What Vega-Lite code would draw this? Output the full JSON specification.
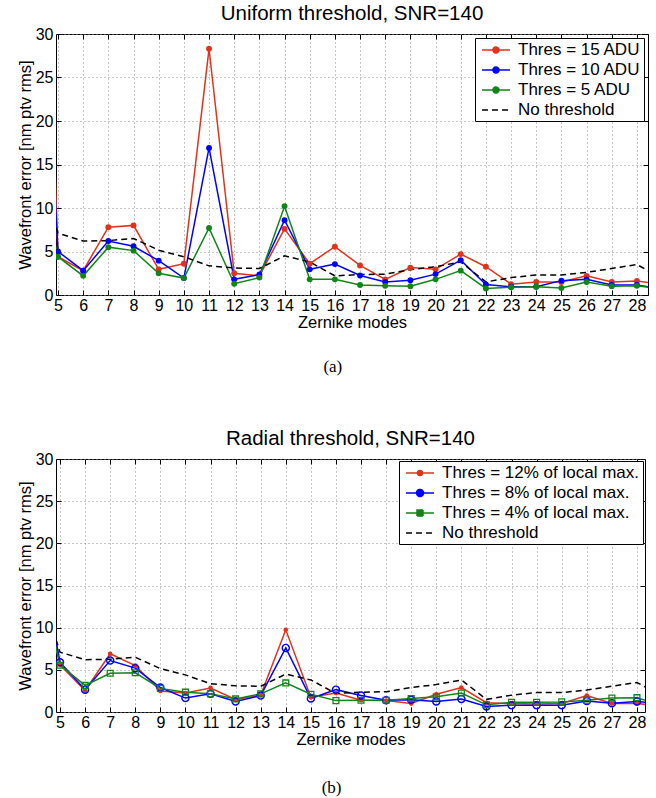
{
  "$schema": "https://vega.github.io/schema/vega-lite/v6.json",
  "background": "white",
  "padding": {"left": 16, "top": 3, "right": 6, "bottom": 2},
  "datasets": {
    "u": [
      {"m":4,"s":"a","v":90},{"m":5,"s":"a","v":4.4},{"m":6,"s":"a","v":2.8},{"m":7,"s":"a","v":7.8},{"m":8,"s":"a","v":8.0},{"m":9,"s":"a","v":2.95},{"m":10,"s":"a","v":3.6},{"m":11,"s":"a","v":28.3},{"m":12,"s":"a","v":2.5},{"m":13,"s":"a","v":2.2},{"m":14,"s":"a","v":7.6},{"m":15,"s":"a","v":3.6},{"m":16,"s":"a","v":5.55},{"m":17,"s":"a","v":3.4},{"m":18,"s":"a","v":1.8},{"m":19,"s":"a","v":3.15},{"m":20,"s":"a","v":2.95},{"m":21,"s":"a","v":4.7},{"m":22,"s":"a","v":3.25},{"m":23,"s":"a","v":1.25},{"m":24,"s":"a","v":1.5},{"m":25,"s":"a","v":1.5},{"m":26,"s":"a","v":2.2},{"m":27,"s":"a","v":1.5},{"m":28,"s":"a","v":1.6},{"m":29,"s":"a","v":1.25},
      {"m":4,"s":"b","v":60},{"m":5,"s":"b","v":5.0},{"m":6,"s":"b","v":2.8},{"m":7,"s":"b","v":6.2},{"m":8,"s":"b","v":5.6},{"m":9,"s":"b","v":3.95},{"m":10,"s":"b","v":1.95},{"m":11,"s":"b","v":16.9},{"m":12,"s":"b","v":1.8},{"m":13,"s":"b","v":2.35},{"m":14,"s":"b","v":8.6},{"m":15,"s":"b","v":2.95},{"m":16,"s":"b","v":3.55},{"m":17,"s":"b","v":2.25},{"m":18,"s":"b","v":1.5},{"m":19,"s":"b","v":1.7},{"m":20,"s":"b","v":2.4},{"m":21,"s":"b","v":4.0},{"m":22,"s":"b","v":1.2},{"m":23,"s":"b","v":0.95},{"m":24,"s":"b","v":0.95},{"m":25,"s":"b","v":1.65},{"m":26,"s":"b","v":1.8},{"m":27,"s":"b","v":1.15},{"m":28,"s":"b","v":1.15},{"m":29,"s":"b","v":0.7},
      {"m":4,"s":"c","v":17},{"m":5,"s":"c","v":4.4},{"m":6,"s":"c","v":2.2},{"m":7,"s":"c","v":5.5},{"m":8,"s":"c","v":5.1},{"m":9,"s":"c","v":2.5},{"m":10,"s":"c","v":1.95},{"m":11,"s":"c","v":7.7},{"m":12,"s":"c","v":1.3},{"m":13,"s":"c","v":2.0},{"m":14,"s":"c","v":10.2},{"m":15,"s":"c","v":1.8},{"m":16,"s":"c","v":1.8},{"m":17,"s":"c","v":1.15},{"m":18,"s":"c","v":1.05},{"m":19,"s":"c","v":1.0},{"m":20,"s":"c","v":1.8},{"m":21,"s":"c","v":2.8},{"m":22,"s":"c","v":0.75},{"m":23,"s":"c","v":0.9},{"m":24,"s":"c","v":0.95},{"m":25,"s":"c","v":0.8},{"m":26,"s":"c","v":1.5},{"m":27,"s":"c","v":1.0},{"m":28,"s":"c","v":1.05},{"m":29,"s":"c","v":0.7},
      {"m":4,"s":"n","v":16.5},{"m":5,"s":"n","v":7.1},{"m":6,"s":"n","v":6.2},{"m":7,"s":"n","v":6.25},{"m":8,"s":"n","v":6.5},{"m":9,"s":"n","v":5.15},{"m":10,"s":"n","v":4.4},{"m":11,"s":"n","v":3.35},{"m":12,"s":"n","v":3.1},{"m":13,"s":"n","v":3.05},{"m":14,"s":"n","v":4.5},{"m":15,"s":"n","v":3.8},{"m":16,"s":"n","v":2.2},{"m":17,"s":"n","v":2.35},{"m":18,"s":"n","v":2.4},{"m":19,"s":"n","v":2.9},{"m":20,"s":"n","v":3.25},{"m":21,"s":"n","v":3.8},{"m":22,"s":"n","v":1.5},{"m":23,"s":"n","v":2.0},{"m":24,"s":"n","v":2.3},{"m":25,"s":"n","v":2.3},{"m":26,"s":"n","v":2.6},{"m":27,"s":"n","v":3.05},{"m":28,"s":"n","v":3.5},{"m":29,"s":"n","v":1.9}
    ],
    "r": [
      {"m":4,"s":"a","v":19},{"m":5,"s":"a","v":5.6},{"m":6,"s":"a","v":2.55},{"m":7,"s":"a","v":6.9},{"m":8,"s":"a","v":5.5},{"m":9,"s":"a","v":2.5},{"m":10,"s":"a","v":2.25},{"m":11,"s":"a","v":2.85},{"m":12,"s":"a","v":1.5},{"m":13,"s":"a","v":2.0},{"m":14,"s":"a","v":9.75},{"m":15,"s":"a","v":1.75},{"m":16,"s":"a","v":2.25},{"m":17,"s":"a","v":1.4},{"m":18,"s":"a","v":1.35},{"m":19,"s":"a","v":1.0},{"m":20,"s":"a","v":2.1},{"m":21,"s":"a","v":2.9},{"m":22,"s":"a","v":1.1},{"m":23,"s":"a","v":1.0},{"m":24,"s":"a","v":0.95},{"m":25,"s":"a","v":1.0},{"m":26,"s":"a","v":1.95},{"m":27,"s":"a","v":1.0},{"m":28,"s":"a","v":1.0},{"m":29,"s":"a","v":0.7},
      {"m":4,"s":"b","v":22},{"m":5,"s":"b","v":5.9},{"m":6,"s":"b","v":2.65},{"m":7,"s":"b","v":6.1},{"m":8,"s":"b","v":5.2},{"m":9,"s":"b","v":2.9},{"m":10,"s":"b","v":1.65},{"m":11,"s":"b","v":2.15},{"m":12,"s":"b","v":1.25},{"m":13,"s":"b","v":1.95},{"m":14,"s":"b","v":7.6},{"m":15,"s":"b","v":1.6},{"m":16,"s":"b","v":2.65},{"m":17,"s":"b","v":1.95},{"m":18,"s":"b","v":1.4},{"m":19,"s":"b","v":1.45},{"m":20,"s":"b","v":1.25},{"m":21,"s":"b","v":1.55},{"m":22,"s":"b","v":0.65},{"m":23,"s":"b","v":0.8},{"m":24,"s":"b","v":0.8},{"m":25,"s":"b","v":0.8},{"m":26,"s":"b","v":1.3},{"m":27,"s":"b","v":1.05},{"m":28,"s":"b","v":1.25},{"m":29,"s":"b","v":0.95},
      {"m":4,"s":"c","v":18},{"m":5,"s":"c","v":5.55},{"m":6,"s":"c","v":3.15},{"m":7,"s":"c","v":4.6},{"m":8,"s":"c","v":4.65},{"m":9,"s":"c","v":2.8},{"m":10,"s":"c","v":2.35},{"m":11,"s":"c","v":2.15},{"m":12,"s":"c","v":1.55},{"m":13,"s":"c","v":2.15},{"m":14,"s":"c","v":3.45},{"m":15,"s":"c","v":2.1},{"m":16,"s":"c","v":1.35},{"m":17,"s":"c","v":1.4},{"m":18,"s":"c","v":1.4},{"m":19,"s":"c","v":1.6},{"m":20,"s":"c","v":1.8},{"m":21,"s":"c","v":2.25},{"m":22,"s":"c","v":0.85},{"m":23,"s":"c","v":1.15},{"m":24,"s":"c","v":1.15},{"m":25,"s":"c","v":1.2},{"m":26,"s":"c","v":1.4},{"m":27,"s":"c","v":1.65},{"m":28,"s":"c","v":1.7},{"m":29,"s":"c","v":0.75},
      {"m":4,"s":"n","v":16.5},{"m":5,"s":"n","v":7.1},{"m":6,"s":"n","v":6.2},{"m":7,"s":"n","v":6.25},{"m":8,"s":"n","v":6.5},{"m":9,"s":"n","v":5.15},{"m":10,"s":"n","v":4.4},{"m":11,"s":"n","v":3.35},{"m":12,"s":"n","v":3.1},{"m":13,"s":"n","v":3.05},{"m":14,"s":"n","v":4.5},{"m":15,"s":"n","v":3.8},{"m":16,"s":"n","v":2.2},{"m":17,"s":"n","v":2.35},{"m":18,"s":"n","v":2.4},{"m":19,"s":"n","v":2.9},{"m":20,"s":"n","v":3.25},{"m":21,"s":"n","v":3.8},{"m":22,"s":"n","v":1.5},{"m":23,"s":"n","v":2.0},{"m":24,"s":"n","v":2.3},{"m":25,"s":"n","v":2.3},{"m":26,"s":"n","v":2.6},{"m":27,"s":"n","v":3.05},{"m":28,"s":"n","v":3.5},{"m":29,"s":"n","v":1.9}
    ]
  },
  "spacing": 53,
  "resolve": {"scale": {"color": "independent"}, "legend": {"color": "independent"}},
  "vconcat": [
    {
      "title": {"text": "(a)", "orient": "bottom", "font": "Liberation Serif", "fontSize": 17, "offset": 28, "anchor": "middle"},
      "resolve": {"scale": {"color": "independent"}, "legend": {"color": "independent"}},
      "vconcat": [
        {
          "title": {"text": "Uniform threshold, SNR=140", "offset": 2},
          "width": 592,
          "height": 261,
          "data": {"name": "u"},
          "encoding": {
            "color": {
              "field": "s", "type": "nominal",
              "scale": {"domain": ["a", "b", "c", "n"], "range": ["#e0331c", "#0000ff", "#12841a", "#000000"]},
              "legend": {
                "labelExpr": "datum.value === 'a' ? 'Thres = 15 ADU' : datum.value === 'b' ? 'Thres = 10 ADU' : datum.value === 'c' ? 'Thres = 5 ADU' : 'No threshold'",
                "offset": 4,
                "encode": {"symbols": {"update": {
                  "shape": {"signal": "datum.value === 'n' ? 'M-0.625,0L0.125,0M0.625,0L1.375,0M1.875,0L2.625,0' : 'M-0.625,0L2.875,0M0.75,0A0.375,0.375 0 1,0 1.5,0A0.375,0.375 0 1,0 0.75,0Z'"},
                  "fill": {"signal": "datum.value === 'a' ? '#e0331c' : datum.value === 'b' ? '#0000ff' : datum.value === 'c' ? '#12841a' : 'transparent'"},
                  "stroke": {"signal": "datum.value === 'a' ? '#e0331c' : datum.value === 'b' ? '#0000ff' : datum.value === 'c' ? '#12841a' : '#000000'"},
                  "strokeWidth": {"value": 1.5},
                  "strokeDash": {"value": [1, 0]},
                  "opacity": {"value": 1}
                }}}
              }
            }
          },
          "resolve": {"axis": {"x": "independent", "y": "independent"}},
          "layer": [
            {
              "transform": [{"filter": "datum.s !== 'n'"}],
              "mark": {"type": "line", "strokeWidth": 1.5, "clip": true},
              "encoding": {
                "x": {"field": "m", "type": "quantitative", "scale": {"domain": [4.92, 28.44], "nice": false, "zero": false},
                  "axis": {"title": "Zernike modes", "values": [5,6,7,8,9,10,11,12,13,14,15,16,17,18,19,20,21,22,23,24,25,26,27,28], "labelFlush": false}},
                "y": {"field": "v", "type": "quantitative", "scale": {"domain": [0, 30], "nice": false},
                  "axis": {"title": "Wavefront error [nm ptv rms]", "values": [0,5,10,15,20,25,30]}}
              }
            },
            {
              "transform": [{"filter": "datum.s === 'n'"}],
              "mark": {"type": "line", "strokeWidth": 1.5, "strokeDash": [6, 4], "clip": true},
              "encoding": {
                "x": {"field": "m", "type": "quantitative", "scale": {"domain": [4.92, 28.44], "nice": false, "zero": false},
                  "axis": {"orient": "top", "title": null, "labels": false, "grid": false, "values": [5,6,7,8,9,10,11,12,13,14,15,16,17,18,19,20,21,22,23,24,25,26,27,28]}},
                "y": {"field": "v", "type": "quantitative", "scale": {"domain": [0, 30], "nice": false},
                  "axis": {"orient": "right", "title": null, "labels": false, "grid": false, "values": [0,5,10,15,20,25,30]}}
              }
            },
            {
              "transform": [{"filter": "datum.s !== 'n'"}],
              "mark": {"type": "point", "filled": true, "size": 35, "opacity": 1, "clip": true},
              "encoding": {
                "x": {"field": "m", "type": "quantitative", "axis": null},
                "y": {"field": "v", "type": "quantitative", "axis": null}
              }
            }
          ]
        }
      ]
    },
    {
      "title": {"text": "(b)", "orient": "bottom", "font": "Liberation Serif", "fontSize": 17, "offset": 32, "anchor": "middle"},
      "resolve": {"scale": {"color": "independent"}, "legend": {"color": "independent"}},
      "vconcat": [
        {
          "title": {"text": "Radial threshold, SNR=140", "offset": 2},
          "width": 589,
          "height": 253,
          "data": {"name": "r"},
          "encoding": {
            "color": {
              "field": "s", "type": "nominal",
              "scale": {"domain": ["a", "b", "c", "n"], "range": ["#e0331c", "#0000ff", "#12841a", "#000000"]},
              "legend": {
                "labelExpr": "datum.value === 'a' ? 'Thres = 12% of local max.' : datum.value === 'b' ? 'Thres = 8% of local max.' : datum.value === 'c' ? 'Thres = 4% of local max.' : 'No threshold'",
                "offset": 2,
                "encode": {"symbols": {"update": {
                  "shape": {"signal": "datum.value === 'n' ? 'M-0.625,0L0.125,0M0.625,0L1.375,0M1.875,0L2.625,0' : datum.value === 'a' ? 'M-0.625,0L2.875,0M0.8,0A0.325,0.325 0 1,0 1.45,0A0.325,0.325 0 1,0 0.8,0Z' : datum.value === 'b' ? 'M-0.625,0L2.875,0M0.69,0A0.44,0.44 0 1,0 1.57,0A0.44,0.44 0 1,0 0.69,0Z' : 'M-0.625,0L2.875,0M0.75,-0.375L1.5,-0.375L1.5,0.375L0.75,0.375Z'"},
                  "fill": {"signal": "datum.value === 'a' ? '#e0331c' : 'transparent'"},
                  "stroke": {"signal": "datum.value === 'a' ? '#e0331c' : datum.value === 'b' ? '#0000ff' : datum.value === 'c' ? '#12841a' : '#000000'"},
                  "strokeWidth": {"value": 1.5},
                  "strokeDash": {"value": [1, 0]},
                  "opacity": {"value": 1}
                }}}
              }
            }
          },
          "resolve": {"axis": {"x": "independent", "y": "independent"}},
          "layer": [
            {
              "transform": [{"filter": "datum.s !== 'n'"}],
              "mark": {"type": "line", "strokeWidth": 1.5, "clip": true},
              "encoding": {
                "x": {"field": "m", "type": "quantitative", "scale": {"domain": [4.84, 28.32], "nice": false, "zero": false},
                  "axis": {"title": "Zernike modes", "values": [5,6,7,8,9,10,11,12,13,14,15,16,17,18,19,20,21,22,23,24,25,26,27,28], "labelFlush": false}},
                "y": {"field": "v", "type": "quantitative", "scale": {"domain": [0, 30], "nice": false},
                  "axis": {"title": "Wavefront error [nm ptv rms]", "values": [0,5,10,15,20,25,30]}}
              }
            },
            {
              "transform": [{"filter": "datum.s === 'n'"}],
              "mark": {"type": "line", "strokeWidth": 1.5, "strokeDash": [6, 4], "clip": true},
              "encoding": {
                "x": {"field": "m", "type": "quantitative", "scale": {"domain": [4.84, 28.32], "nice": false, "zero": false},
                  "axis": {"orient": "top", "title": null, "labels": false, "grid": false, "values": [5,6,7,8,9,10,11,12,13,14,15,16,17,18,19,20,21,22,23,24,25,26,27,28]}},
                "y": {"field": "v", "type": "quantitative", "scale": {"domain": [0, 30], "nice": false},
                  "axis": {"orient": "right", "title": null, "labels": false, "grid": false, "values": [0,5,10,15,20,25,30]}}
              }
            },
            {
              "transform": [{"filter": "datum.s === 'a'"}],
              "mark": {"type": "point", "shape": "circle", "filled": true, "size": 22, "opacity": 1, "clip": true},
              "encoding": {
                "x": {"field": "m", "type": "quantitative", "axis": null},
                "y": {"field": "v", "type": "quantitative", "axis": null}
              }
            },
            {
              "transform": [{"filter": "datum.s === 'b'"}],
              "mark": {"type": "point", "shape": "circle", "filled": false, "size": 50, "strokeWidth": 1.4, "opacity": 1, "clip": true},
              "encoding": {
                "x": {"field": "m", "type": "quantitative", "axis": null},
                "y": {"field": "v", "type": "quantitative", "axis": null}
              }
            },
            {
              "transform": [{"filter": "datum.s === 'c'"}],
              "mark": {"type": "point", "shape": "square", "filled": false, "size": 34, "strokeWidth": 1.3, "opacity": 1, "clip": true},
              "encoding": {
                "x": {"field": "m", "type": "quantitative", "axis": null},
                "y": {"field": "v", "type": "quantitative", "axis": null}
              }
            }
          ]
        }
      ]
    }
  ],
  "config": {
    "font": "Liberation Sans",
    "view": {"stroke": "black", "strokeWidth": 1},
    "title": {"font": "Liberation Sans", "fontSize": 20.5, "fontWeight": "normal", "color": "black"},
    "axis": {
      "labelFont": "Liberation Sans", "labelFontSize": 16, "labelColor": "black",
      "titleFont": "Liberation Sans", "titleFontSize": 16.5, "titleFontWeight": "normal", "titleColor": "black",
      "domain": false, "tickColor": "black", "tickSize": -5, "tickWidth": 1,
      "labelPadding": 8, "titlePadding": 2,
      "gridColor": "#8c8c8c", "gridDash": [1, 3], "gridWidth": 1, "gridOpacity": 1
    },
    "axisX": {"labelPadding": 7, "titlePadding": 1},
    "legend": {
      "orient": "top-right", "title": null,
      "labelFont": "Liberation Sans", "labelFontSize": 17, "labelColor": "black", "labelLimit": 400,
      "symbolSize": 256, "labelOffset": 22, "rowPadding": 3, "padding": 3,
      "strokeColor": "black", "fillColor": "white", "symbolStrokeWidth": 1.5
    }
  }
}
